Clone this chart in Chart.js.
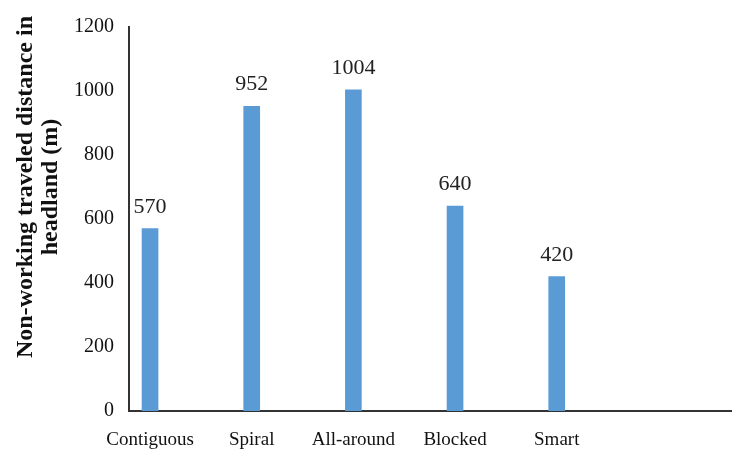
<!DOCTYPE html>
<html>
<head>
<meta charset="utf-8">
<script src="https://cdn.jsdelivr.net/npm/chart.js@4/dist/chart.umd.min.js"></script>
<style>
  html, body { margin: 0; padding: 0; background: #fff; }
  #chart { display: block; }
</style>
</head>
<body>
<canvas id="chart" width="732" height="457"></canvas>
<script>
const categories = ['Contiguous', 'Spiral', 'All-around', 'Blocked', 'Smart'];
const distances = [570, 952, 1004, 640, 420];
const yTicks = [0, 200, 400, 600, 800, 1000, 1200];
const yTitle = ['Non-working traveled distance in', 'headland (m)'];

const serif = "'Liberation Serif', 'Times New Roman', serif";

// value labels above each bar
const valueLabels = {
    id: 'valueLabels',
    afterDatasetsDraw(chart) {
        const ctx = chart.ctx;
        const meta = chart.getDatasetMeta(0);
        ctx.save();
        ctx.font = '22px ' + serif;
        ctx.fillStyle = '#222';
        ctx.textAlign = 'center';
        ctx.textBaseline = 'alphabetic';
        meta.data.forEach((bar, i) => {
            ctx.fillText(String(distances[i]), bar.x, bar.y - 16);
        });
        ctx.restore();
    }
};

// rotated two-line axis title
const axisTitle = {
    id: 'axisTitle',
    afterDraw(chart) {
        const ctx = chart.ctx;
        ctx.save();
        ctx.font = 'bold 24px ' + serif;
        ctx.fillStyle = '#111';
        ctx.textAlign = 'center';
        ctx.textBaseline = 'alphabetic';
        const xs = [32, 57];
        yTitle.forEach((line, i) => {
            ctx.save();
            ctx.translate(xs[i], 187);
            ctx.rotate(-Math.PI / 2);
            ctx.fillText(line, 0, 0);
            ctx.restore();
        });
        ctx.restore();
    }
};

const config = {
    type: 'bar',
    data: {
        datasets: [{
            data: distances.map((v, i) => ({ x: i, y: v })),
            backgroundColor: '#5b9bd5',
            borderWidth: 0,
            barThickness: 16
        }]
    },
    options: {
        responsive: false,
        animation: false,
        layout: { padding: { top: 9, right: 0, left: 0, bottom: 0 } },
        plugins: {
            legend: { display: false },
            tooltip: { enabled: false }
        },
        scales: {
            x: {
                type: 'linear',
                offset: false,
                min: -0.207,
                max: 5.724,
                afterBuildTicks: s => { s.ticks = categories.map((c, i) => ({ value: i })); },
                afterFit: s => { s.height = 46; },
                grid: { display: false, drawTicks: false },
                border: { color: '#333', width: 2 },
                ticks: {
                    autoSkip: false,
                    maxRotation: 0,
                    padding: 18,
                    color: '#111',
                    font: { family: serif, size: 19 },
                    callback: v => categories[v] ?? ''
                }
            },
            y: {
                min: 0,
                max: 1200,
                afterBuildTicks: s => { s.ticks = yTicks.map(v => ({ value: v })); },
                afterFit: s => { s.width = 129; },
                grid: { display: false, drawTicks: false },
                border: { color: '#333', width: 2 },
                ticks: {
                    padding: 15,
                    color: '#111',
                    font: { family: serif, size: 20 },
                    callback: v => String(v)
                }
            }
        }
    },
    plugins: [valueLabels, axisTitle]
};

const distanceChart = new Chart(document.getElementById('chart'), config);
</script>
</body>
</html>
